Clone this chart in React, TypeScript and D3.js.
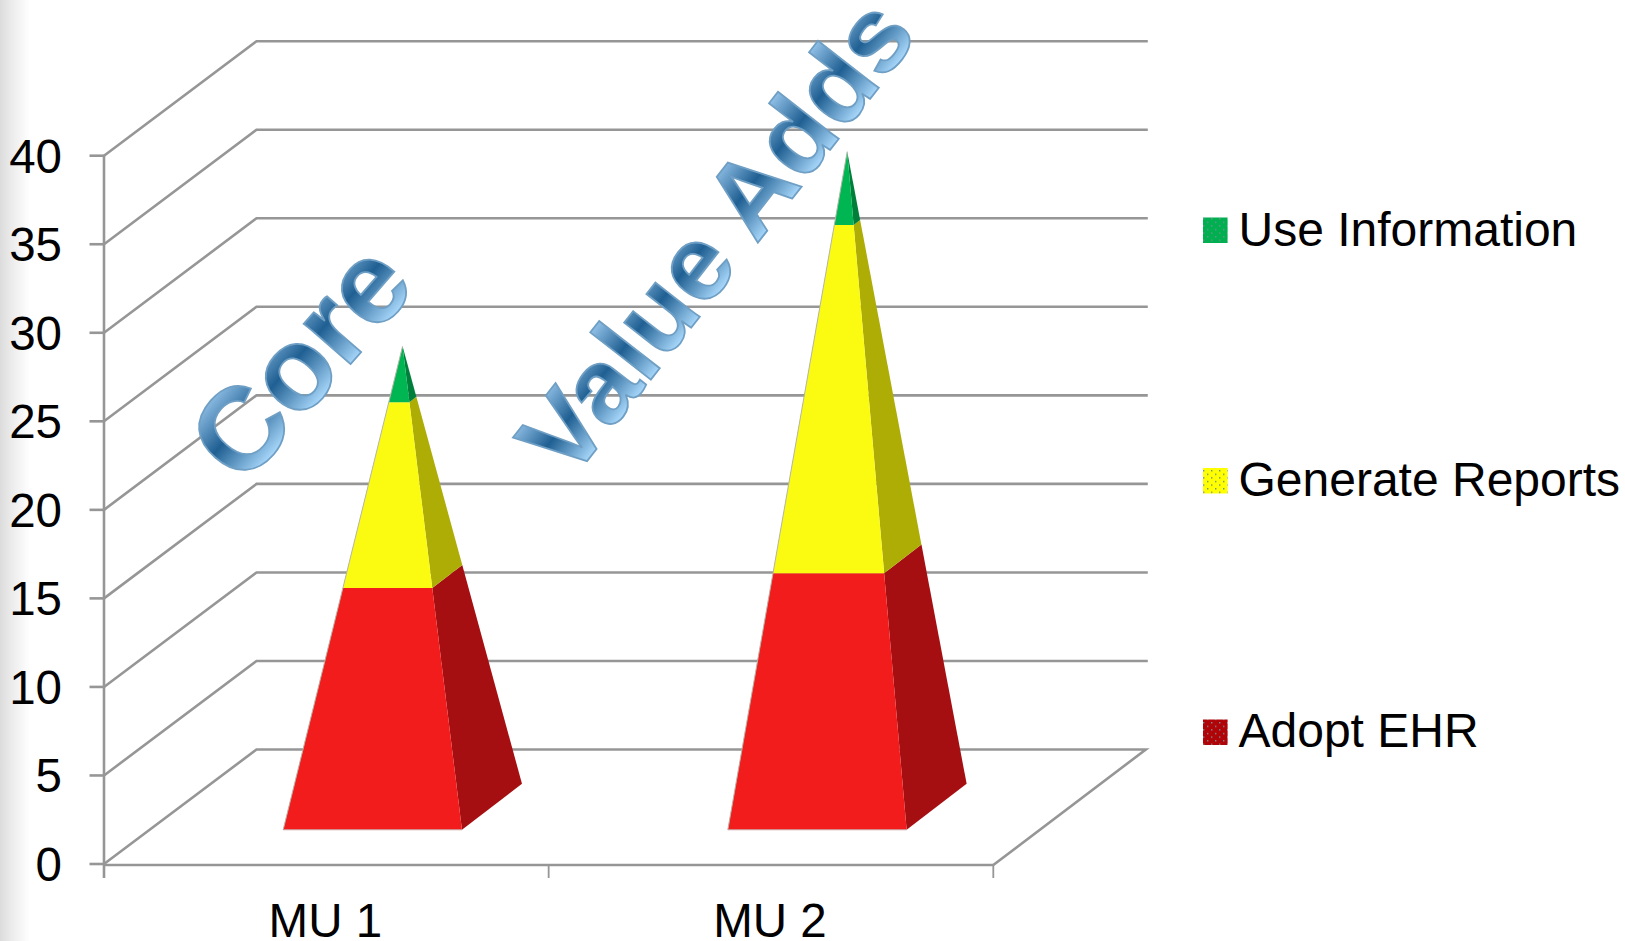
import React from "react";
import * as d3 from "d3";

const categories = ["MU 1", "MU 2"];
const seriesNames = ["Adopt EHR", "Generate Reports", "Use Information"];
const adoptEHR = [13, 14];
const generateReports = [10, 19];
const useInformation = [3, 4];
const yTicks = [0, 5, 10, 15, 20, 25, 30, 35, 40];
const legendOrder = ["Use Information", "Generate Reports", "Adopt EHR"];
const wordArt = [
  { text: "Core", x: 243, y: 488, angle: -49, size: 117 },
  { text: "Value Adds", x: 570, y: 483, angle: -52, size: 106 },
];

const W = 1625;
const H = 941;
const DX = 152.5;
const DY = 114.5;
const FONT = "'Liberation Sans', Arial, sans-serif";

const frontColors: Record<string, string> = {
  "Adopt EHR": "#f21c1d",
  "Generate Reports": "#fbfb12",
  "Use Information": "#00b652",
};
const sideColors: Record<string, string> = {
  "Adopt EHR": "#a60f11",
  "Generate Reports": "#adad06",
  "Use Information": "#007f3b",
};
const legendColors: Record<string, string> = {
  "Use Information": "#00b050",
  "Generate Reports": "#ffff00",
  "Adopt EHR": "#b00408",
};
const legendY: Record<string, [number, number]> = {
  "Use Information": [217.5, 246],
  "Generate Reports": [468, 496],
  "Adopt EHR": [719.5, 747],
};

const y = d3.scaleLinear().domain([0, 40]).range([864, 155.7]);
const x = d3.scaleBand<string>().domain(categories).range([104, 993.3]);
const line = d3.line<[number, number]>();

const rows = categories.map((c, i) => ({
  category: c,
  "Adopt EHR": adoptEHR[i],
  "Generate Reports": generateReports[i],
  "Use Information": useInformation[i],
}));
const stacked = d3.stack<any>().keys(seriesNames)(rows);

const HALF_W = 89.4;
const HALF_DX = 30;
const HALF_DY = 23;
const UNIT = y(0) - y(1);

function pyramid(i: number) {
  const cat = categories[i];
  const cx = (x(cat) as number) + x.bandwidth() / 2 + DX / 2;
  const cy = y(0) - DY / 2;
  const total = adoptEHR[i] + generateReports[i] + useInformation[i];
  const apex: [number, number] = [cx, cy - total * UNIT];
  const FL: [number, number] = [cx - HALF_W - HALF_DX, cy + HALF_DY];
  const FR: [number, number] = [cx + HALF_W - HALF_DX, cy + HALF_DY];
  const BR: [number, number] = [cx + HALF_W + HALF_DX, cy - HALF_DY];
  const at = (p: [number, number], v: number): [number, number] => {
    const t = v / total;
    return [p[0] + (apex[0] - p[0]) * t, p[1] + (apex[1] - p[1]) * t];
  };
  return { apex, FL, FR, BR, at };
}

export default function App() {
  const top = y(40);
  return (
    <svg
      width={W}
      height={H}
      viewBox={`0 0 ${W} ${H}`}
      style={{ position: "fixed", left: 0, top: 0, display: "block", background: "#fff" }}
    >
      <defs>
        <linearGradient id="edge" x1="0" x2="1" y1="0" y2="0">
          <stop offset="0" stopColor="#dcdcdc" />
          <stop offset="0.4" stopColor="#ececec" />
          <stop offset="1" stopColor="#ffffff" />
        </linearGradient>
        <linearGradient id="wa" x1="0" x2="0" y1="0" y2="1">
          <stop offset="0.17" stopColor="#8dbde4" />
          <stop offset="0.47" stopColor="#1f5f92" />
          <stop offset="0.82" stopColor="#a9d8fb" />
        </linearGradient>
        {legendOrder.map((n, i) => (
          <pattern key={n} id={`dots${i}`} width="8" height="7.2" patternUnits="userSpaceOnUse" x="1203" y="218">
            <rect width="8" height="7.2" fill={legendColors[n]} />
            <rect x="0" y="0" width="1.4" height="1.4" fill="#6f8f8f" />
            <rect x="4" y="3.6" width="1.4" height="1.4" fill="#6f8f8f" />
          </pattern>
        ))}
      </defs>

      <rect x={0} y={0} width={30} height={H} fill="url(#edge)" />

      {/* walls and floor */}
      <g fill="none" stroke="#969696" strokeWidth={2.6}>
        {yTicks.map((t) => (
          <path
            key={t}
            d={
              line(
                t === 0
                  ? [
                      [x.range()[0], y(0)],
                      [x.range()[0] + DX, y(0) - DY],
                      [x.range()[1] + DX, y(0) - DY],
                      [x.range()[1], y(0) + 1],
                    ]
                  : [
                      [x.range()[0], y(t)],
                      [x.range()[0] + DX, y(t) - DY],
                      [x.range()[1] + DX + 2, y(t) - DY],
                    ]
              ) as string
            }
          />
        ))}
        <line x1={104} x2={104} y1={top} y2={878} />
        <line x1={104} x2={993.3} y1={865} y2={865} />
        {yTicks.map((t) => (
          <line key={t} x1={89.5} x2={104} y1={y(t)} y2={y(t)} />
        ))}
        {[...categories.map((c) => x(c) as number), x.range()[1]].map((v) => (
          <line key={v} x1={v} x2={v} y1={865} y2={878} strokeWidth={1.8} />
        ))}
      </g>

      {/* pyramids */}
      {categories.map((c, i) => {
        const p = pyramid(i);
        return (
          <g key={c}>
            {stacked.map((s) => {
              const [v0, v1] = s[i];
              const front = [p.at(p.FL, v0), p.at(p.FR, v0), p.at(p.FR, v1), p.at(p.FL, v1)] as [number, number][];
              const side = [p.at(p.FR, v0), p.at(p.BR, v0), p.at(p.BR, v1), p.at(p.FR, v1)] as [number, number][];
              return (
                <g key={s.key}>
                  <path d={line(side) + "Z"} fill={sideColors[s.key]} />
                  <path d={line(front) + "Z"} fill={frontColors[s.key]} />
                </g>
              );
            })}
            <path d={line([p.FL, p.apex]) as string} stroke="#b4b4a8" strokeWidth={1} fill="none" />
            <path d={line([p.FL, p.FR]) as string} stroke="#c9a0a0" strokeWidth={1} fill="none" />
          </g>
        );
      })}

      {/* axis labels */}
      <g fontFamily={FONT} fontSize={47.5} fill="#000">
        {yTicks.map((t) => (
          <text key={t} x={62} y={y(t) + 17} textAnchor="end">
            {t}
          </text>
        ))}
        {categories.map((c) => (
          <text key={c} x={(x(c) as number) + x.bandwidth() / 2 - 1} y={937} textAnchor="middle">
            {c}
          </text>
        ))}
      </g>

      {/* legend */}
      <g fontFamily={FONT} fontSize={48} fill="#000">
        {legendOrder.map((n, i) => (
          <g key={n}>
            <rect x={1203} y={legendY[n][0]} width={24.6} height={25.5} fill={`url(#dots${i})`} />
            <text x={1238.5} y={legendY[n][1]}>
              {n}
            </text>
          </g>
        ))}
      </g>

      {/* word art */}
      {wordArt.map((w) => (
        <text
          key={w.text}
          transform={`translate(${w.x},${w.y}) rotate(${w.angle})`}
          fontFamily={FONT}
          fontWeight={700}
          fontSize={w.size}
          fill="url(#wa)"
          stroke="#6f9fc4"
          strokeWidth={1.8}
        >
          {w.text}
        </text>
      ))}
    </svg>
  );
}
